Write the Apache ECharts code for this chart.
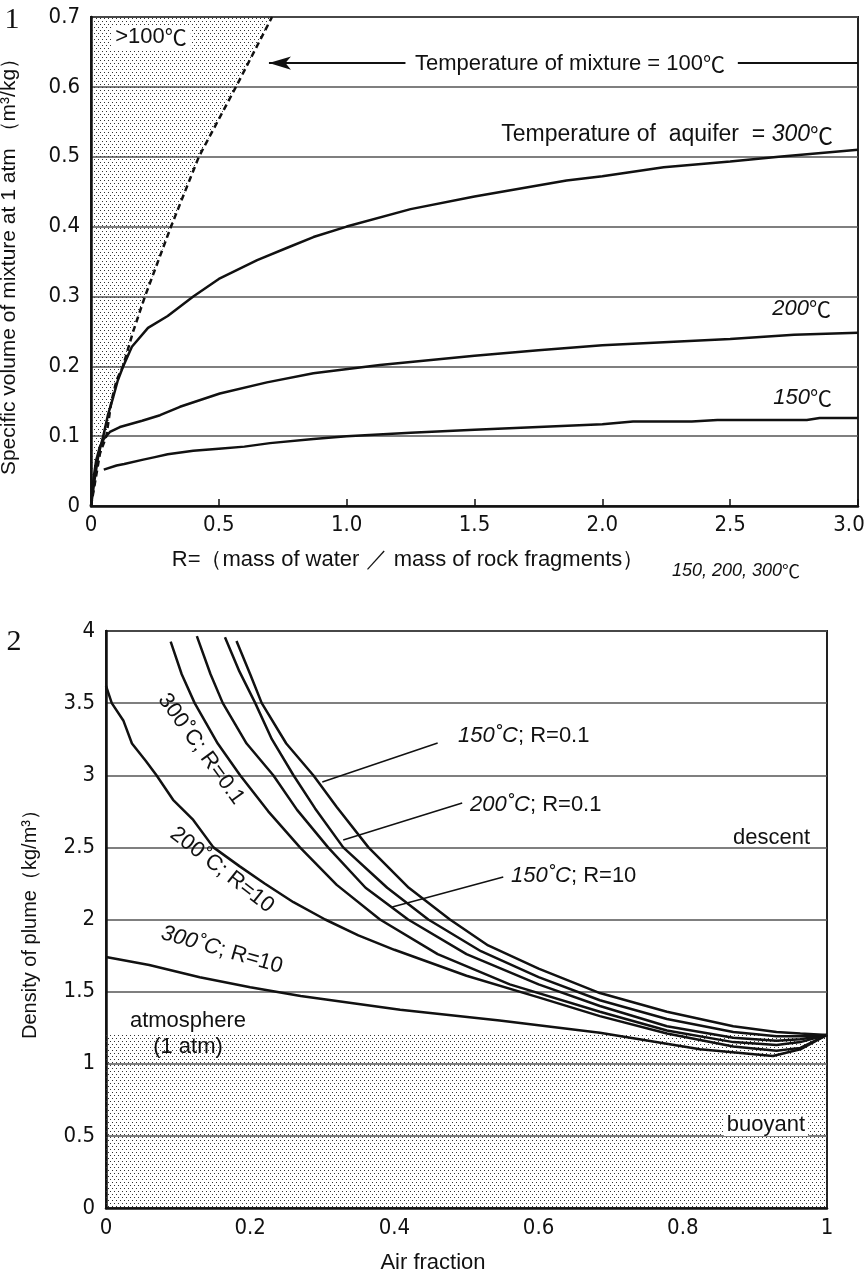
<!DOCTYPE html>
<html>
<head>
<meta charset="utf-8">
<script src="https://cdn.jsdelivr.net/npm/echarts/dist/echarts.min.js"></script>
<style>
html, body { margin: 0; padding: 0; background: #fff; }
#main { width: 866px; height: 1280px; }
</style>
</head>
<body>
<div id="main"></div>
<script>
// ---- panel 1: specific volume vs R ----
var boundary100 = [[0, 0], [0.035, 0.075], [0.06, 0.1], [0.08, 0.15], [0.1, 0.18], [0.125, 0.2], [0.165, 0.25],
    [0.211, 0.3], [0.313, 0.4], [0.422, 0.5], [0.567, 0.6], [0.708, 0.7]];
var aq300 = [[0, 0], [0.015, 0.04], [0.03, 0.075], [0.048, 0.1], [0.066, 0.13], [0.087, 0.156], [0.105, 0.18],
    [0.126, 0.2], [0.16, 0.228], [0.223, 0.255], [0.3, 0.272], [0.4, 0.3], [0.5, 0.325], [0.65, 0.352],
    [0.77, 0.37], [0.87, 0.385], [1.0, 0.4], [1.25, 0.425], [1.5, 0.443], [1.86, 0.466], [2.0, 0.472],
    [2.24, 0.485], [2.5, 0.493], [2.69, 0.5], [3.0, 0.51]];
var aq200 = [[0, 0], [0.01, 0.04], [0.02, 0.065], [0.035, 0.085], [0.05, 0.096], [0.074, 0.106], [0.113, 0.113],
    [0.2, 0.122], [0.27, 0.13], [0.348, 0.142], [0.504, 0.161], [0.688, 0.177], [0.87, 0.19], [1.13, 0.202],
    [1.5, 0.215], [1.75, 0.223], [2.0, 0.23], [2.5, 0.239], [2.75, 0.245], [3.0, 0.248]];
var aq150 = [[0.05, 0.052], [0.1, 0.058], [0.13, 0.06], [0.2, 0.066], [0.25, 0.07], [0.3, 0.074], [0.4, 0.079],
    [0.5, 0.082], [0.6, 0.085], [0.7, 0.09], [0.87, 0.096], [1.0, 0.1], [1.25, 0.105], [1.5, 0.109],
    [1.75, 0.113], [2.0, 0.117], [2.12, 0.121], [2.35, 0.121], [2.45, 0.123], [2.8, 0.123], [2.85, 0.126], [3.0, 0.126]];

// ---- panel 2: plume density vs air fraction ----
var p150r01 = [[0.181, 3.93], [0.2, 3.7], [0.216, 3.5], [0.25, 3.22], [0.2875, 3.0], [0.32, 2.78], [0.364, 2.5],
    [0.42, 2.22], [0.477, 2.0], [0.53, 1.82], [0.6, 1.66], [0.685, 1.49], [0.778, 1.36], [0.87, 1.26],
    [0.93, 1.22], [0.963, 1.21], [1, 1.2]];
var p200r01 = [[0.165, 3.956], [0.185, 3.72], [0.207, 3.5], [0.23, 3.25], [0.26, 3.0], [0.29, 2.77], [0.329, 2.5],
    [0.39, 2.22], [0.447, 2.0], [0.52, 1.78], [0.6, 1.6], [0.685, 1.44], [0.778, 1.31], [0.87, 1.22],
    [0.93, 1.19], [0.963, 1.19], [1, 1.2]];
var p150r10 = [[0.126, 3.965], [0.145, 3.7], [0.162, 3.5], [0.195, 3.22], [0.232, 3.0], [0.265, 2.76], [0.308, 2.5],
    [0.36, 2.22], [0.419, 2.0], [0.5, 1.76], [0.6, 1.55], [0.685, 1.4], [0.778, 1.26], [0.87, 1.18],
    [0.93, 1.16], [0.963, 1.17], [1, 1.2]];
var p300r01 = [[0.0897, 3.926], [0.105, 3.7], [0.123, 3.5], [0.155, 3.22], [0.186, 3.0], [0.225, 2.75], [0.269, 2.5],
    [0.32, 2.24], [0.38, 2.0], [0.46, 1.76], [0.56, 1.55], [0.685, 1.36], [0.778, 1.23], [0.87, 1.15],
    [0.93, 1.13], [0.963, 1.15], [1, 1.2]];
var p200r10 = [[0, 3.62], [0.008, 3.5], [0.024, 3.38], [0.036, 3.22], [0.055, 3.1], [0.07, 3.0], [0.093, 2.83],
    [0.121, 2.69], [0.149, 2.5], [0.185, 2.37], [0.22, 2.25], [0.26, 2.12], [0.304, 2.0], [0.35, 1.89],
    [0.4, 1.79], [0.5, 1.61], [0.6, 1.46], [0.685, 1.33], [0.778, 1.21], [0.87, 1.12], [0.93, 1.09],
    [0.963, 1.11], [1, 1.2]];
var p300r10 = [[0, 1.74], [0.06, 1.685], [0.13, 1.6], [0.2, 1.53], [0.27, 1.47], [0.408, 1.375], [0.546, 1.3],
    [0.685, 1.215], [0.824, 1.1], [0.925, 1.054], [0.963, 1.1], [1, 1.2]];
var atmDensity = 1.2;

// annotation lines (arrow to the 100 degC line, leaders to curve labels)
var arrowLeft = [[0.696, 0.634], [1.23, 0.634]];
var arrowRight = [[2.53, 0.634], [3.0, 0.634]];
var lead150r01 = [[0.300, 2.953], [0.460, 3.224]];
var lead200r01 = [[0.329, 2.551], [0.494, 2.808]];
var lead150r10 = [[0.397, 2.087], [0.551, 2.295]];

function dots() {
    var c = document.createElement('canvas');
    c.width = 4; c.height = 6;
    var ctx = c.getContext('2d');
    ctx.fillStyle = '#333';
    ctx.fillRect(0, 0, 1, 1);
    ctx.fillRect(2, 3, 1, 1);
    return {image: c, repeat: 'repeat'};
}
var stipple = dots();

var tickFam = "'Liberation Sans Narrow', 'DejaVu Sans Condensed', sans-serif";
var tickFont = {color: '#111', fontSize: 22, fontFamily: tickFam};
var txtFont = "'Liberation Sans', Arial, sans-serif";
var cjk = "'Noto Sans CJK JP', 'Noto Sans CJK SC', sans-serif";

function richT(size, italic) {
    return {
        it: {fontStyle: 'italic', fontSize: size, fontFamily: txtFont},
        c: {fontSize: size, fontFamily: cjk, fontStyle: italic ? 'italic' : 'normal'}
    };
}
function txt(x, y, text, size, align, extra) {
    var st = {
        text: text, font: size + 'px ' + txtFont, fill: '#111',
        align: align, verticalAlign: 'middle', rich: richT(size, false)
    };
    var el = {type: 'text', x: x, y: y, z: 10, style: st};
    for (var k in extra) {
        if (k === 'rotation') el.rotation = extra[k] * Math.PI / 180;
        else st[k] = extra[k];
    }
    return el;
}

function curve(data, xi, extra) {
    var s = {
        type: 'line', xAxisIndex: xi, yAxisIndex: xi, data: data,
        showSymbol: false, symbol: 'none', silent: true, z: 3,
        lineStyle: {color: '#111', width: 2.5}
    };
    for (var k in extra) s[k] = extra[k];
    return s;
}
function thin(data, xi) {
    return curve(data, xi, {lineStyle: {color: '#111', width: 1.5}});
}

var myChart = echarts.init(document.getElementById('main'));
var option = {
    backgroundColor: '#fff',
    animation: false,
    grid: [
        {left: 91, top: 17, width: 767, height: 489, show: true, borderColor: '#222', borderWidth: 2,
            backgroundColor: 'transparent', containLabel: false, outerBoundsMode: 'none'},
        {left: 106, top: 631, width: 721, height: 577, show: true, borderColor: '#222', borderWidth: 2,
            backgroundColor: 'transparent', containLabel: false, outerBoundsMode: 'none'}
    ],
    xAxis: [
        {
            type: 'value', gridIndex: 0, min: 0, max: 3, interval: 0.5,
            axisLine: {lineStyle: {color: '#111', width: 2.5}},
            axisTick: {show: true, inside: true, length: 7, lineStyle: {color: '#111', width: 1.5}},
            axisLabel: {
                margin: 8, textStyle: tickFont,
                rich: {m: {fontSize: 22, fontFamily: tickFam, color: '#111', padding: [0, 18, 0, 0]}},
                formatter: function (v) {
                    if (v === 0) return '0';
                    if (v === 3) return '{m|3.0}';
                    return v.toFixed(1);
                }
            },
            splitLine: {show: false}
        },
        {
            type: 'value', gridIndex: 1, min: 0, max: 1, interval: 0.2,
            axisLine: {lineStyle: {color: '#111', width: 2.5}},
            axisTick: {show: false},
            axisLabel: {margin: 9, textStyle: tickFont, formatter: function (v) { return String(parseFloat(v.toFixed(1))); }},
            splitLine: {show: false}
        }
    ],
    yAxis: [
        {
            type: 'value', gridIndex: 0, min: 0, max: 0.7, interval: 0.1,
            name: 'Specific volume of mixture at 1 atm （m³/kg）', nameLocation: 'middle', nameGap: 71,
            nameTextStyle: {color: '#111', fontSize: 21, fontFamily: txtFont},
            axisLine: {lineStyle: {color: '#111', width: 2.5}},
            axisTick: {show: false},
            axisLabel: {margin: 11, textStyle: tickFont, formatter: function (v) { return v === 0 ? '0' : v.toFixed(1); }},
            splitLine: {show: true, lineStyle: {color: '#555', width: 1.5}}
        },
        {
            type: 'value', gridIndex: 1, min: 0, max: 4, interval: 0.5,
            name: 'Density of plume（kg/m³）', nameLocation: 'middle', nameGap: 66,
            nameTextStyle: {color: '#111', fontSize: 20, fontFamily: txtFont},
            axisLine: {lineStyle: {color: '#111', width: 2.5}},
            axisTick: {show: false},
            axisLabel: {margin: 11, textStyle: tickFont, formatter: function (v) { return String(parseFloat(v.toFixed(1))); }},
            splitLine: {show: true, lineStyle: {color: '#555', width: 1.5}}
        }
    ],
    series: [
        curve(boundary100, 0, {
            z: 2,
            lineStyle: {color: '#111', width: 2.5, type: [6, 4]},
            areaStyle: {origin: 'end', color: stipple, opacity: 1}
        }),
        curve(aq300, 0),
        curve(aq200, 0),
        curve(aq150, 0),
        curve([{value: arrowLeft[0], symbol: 'arrow', symbolSize: [10, 22], symbolRotate: 90}, arrowLeft[1]], 0, {
            showSymbol: true, symbol: 'none', itemStyle: {color: '#111'},
            lineStyle: {color: '#111', width: 2}
        }),
        curve(arrowRight, 0, {lineStyle: {color: '#111', width: 2}}),

        curve(p300r10, 1, {
            markArea: {
                silent: true,
                itemStyle: {color: stipple, opacity: 1},
                data: [[{yAxis: 0}, {yAxis: atmDensity}]]
            }
        }),
        curve(p200r10, 1),
        curve(p300r01, 1),
        curve(p150r10, 1),
        curve(p200r01, 1),
        curve(p150r01, 1),
        thin(lead150r01, 1),
        thin(lead200r01, 1),
        thin(lead150r10, 1)
    ],
    graphic: [
        {type: 'text', x: 12, y: 20, z: 10, style: {text: '1', font: "30px 'Liberation Serif', serif", fill: '#111', align: 'center', verticalAlign: 'middle'}},
        txt(151, 37, '>100{c|℃}', 22, 'center', {backgroundColor: '#fff', padding: [1, 4]}),
        txt(570, 64, 'Temperature of mixture = 100{c|℃}', 22, 'center', {backgroundColor: '#fff', padding: [1, 3]}),
        txt(833, 135, 'Temperature of  aquifer  = {it|300}{c|℃}', 23, 'right'),
        txt(831, 309, '{it|200}{c|℃}', 22, 'right'),
        txt(832, 398, '{it|150}{c|℃}', 22, 'right'),
        txt(408, 560, 'R=（mass of water ／ mass of rock fragments）', 22, 'center'),
        txt(672, 571, '{it|150, 200, 300}{c|℃}', 18, 'left'),

        {type: 'text', x: 14, y: 642, z: 10, style: {text: '2', font: "30px 'Liberation Serif', serif", fill: '#111', align: 'center', verticalAlign: 'middle'}},
        txt(201, 749, '300˚C; R=0.1', 22, 'center', {rotation: -54}),
        txt(222, 870, '200˚C; R=10', 22, 'center', {rotation: -38}),
        txt(222, 950, '{it|300˚C}; R=10', 22, 'center', {rotation: -16}),
        txt(458, 736, '{it|150˚C}; R=0.1', 22, 'left'),
        txt(470, 805, '{it|200˚C}; R=0.1', 22, 'left'),
        txt(511, 876, '{it|150˚C}; R=10', 22, 'left'),
        txt(810, 838, 'descent', 22, 'right'),
        txt(188, 1021, 'atmosphere', 22, 'center'),
        txt(188, 1047, '(1 atm)', 22, 'center'),
        txt(766, 1125, 'buoyant', 22, 'center', {backgroundColor: '#fff', padding: [0, 3]}),
        txt(433, 1263, 'Air fraction', 22, 'center')
    ]
};
myChart.setOption(option);
window.onresize = myChart.resize;
</script>
</body>
</html>
